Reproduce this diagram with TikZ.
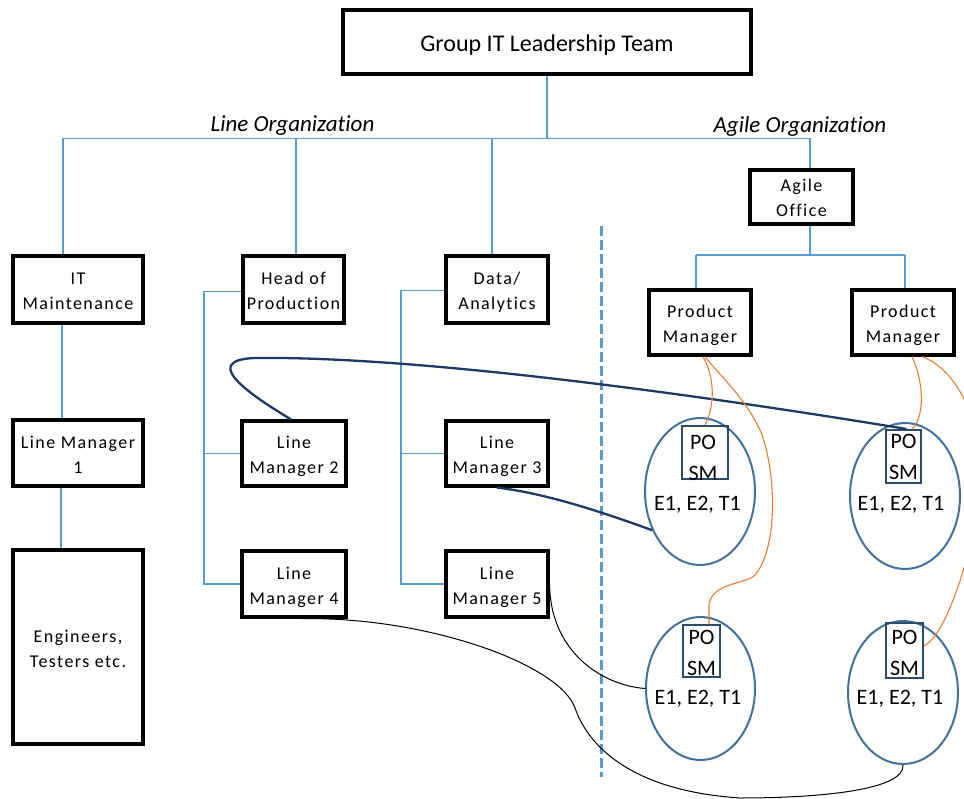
\documentclass[tikz,border=0pt]{standalone}
\usepackage{fontspec}
\setmainfont[Ligatures=NoCommon]{Carlito}
\newfontfamily\boxfont[LetterSpace=8,Ligatures=NoCommon]{Carlito}
\usetikzlibrary{shapes.geometric}
\definecolor{lblue}{HTML}{5B9BD5}
\definecolor{ellblue}{HTML}{41719C}
\definecolor{navyc}{HTML}{203864}
\definecolor{poboxc}{HTML}{2F4A68}
\definecolor{orngc}{HTML}{ED7D31}
\tikzset{
  orgbox/.style={draw=black, line width=3.2pt, align=center, inner sep=0pt,
    font=\boxfont\fontsize{18}{25}\selectfont, text height=40pt, text depth=0pt},
  titlebox/.style={draw=black, line width=3.2pt, inner sep=0pt,
    font=\fontsize{24}{28}\selectfont, text height=19pt, text depth=0pt},
  lbl/.style={inner sep=0pt, font=\itshape\fontsize{23}{28}\selectfont},
  ell/.style={ellipse, draw=ellblue, line width=2pt, inner sep=0pt},
  pob/.style={draw=poboxc, line width=2pt, inner sep=0pt},
  potext/.style={inner sep=0pt, align=center, font=\fontsize{22}{31}\selectfont},
  etext/.style={inner sep=0pt, font=\fontsize{22}{26}\selectfont},
  conn/.style={draw=lblue, line width=1.3pt},
  navyline/.style={draw=navyc, line width=2.3pt},
  blkline/.style={draw=black, line width=1pt},
  orline/.style={draw=orngc, line width=1.1pt},
  divider/.style={draw=lblue, line width=3pt, dash pattern=on 10pt off 4pt}
}
\begin{document}
\begin{tikzpicture}[x=1pt,y=-1pt]
\useasboundingbox (0,0) rectangle (964,799);

% boxes
\node[titlebox, minimum width=408pt, minimum height=64pt] (glt) at (547,42) {Group IT Leadership Team};
\node[orgbox, minimum width=130pt, minimum height=67pt] (itm) at (78,289.5) {IT\\Maintenance};
\node[orgbox, minimum width=101pt, minimum height=67pt] (hop) at (293.5,289.5) {Head of\\Production};
\node[orgbox, minimum width=102pt, minimum height=67pt] (da) at (497,289.5) {Data/\\Analytics};
\node[orgbox, minimum width=103pt, minimum height=54pt] (ao) at (801.5,197) {Agile\\Office};
\node[orgbox, minimum width=102pt, minimum height=65pt] (pm1) at (700,322.5) {Product\\Manager};
\node[orgbox, minimum width=102pt, minimum height=65pt] (pm2) at (903,322.5) {Product\\Manager};
\node[orgbox, minimum width=130pt, minimum height=66pt] (lm1) at (78,453) {Line Manager\\1};
\node[orgbox, minimum width=130pt, minimum height=194pt] (eng) at (78,647) {Engineers,\\Testers etc.};
\node[orgbox, minimum width=104pt, minimum height=65pt] (lm2) at (294,453.5) {Line\\Manager 2};
\node[orgbox, minimum width=102pt, minimum height=65pt] (lm3) at (497,453.5) {Line\\Manager 3};
\node[orgbox, minimum width=104pt, minimum height=66pt] (lm4) at (294,584) {Line\\Manager 4};
\node[orgbox, minimum width=102pt, minimum height=66pt] (lm5) at (497,584) {Line\\Manager 5};

% labels
\node[lbl] (lineorg) at (292.5,126) {Line Organization};
\node[lbl] (agileorg) at (800,126) {Agile Organization};

% teams
\node[ell, minimum width=110pt, minimum height=147pt] (e1) at (700,491.5) {};
\node[ell, minimum width=110pt, minimum height=146pt] (e2) at (905,496) {};
\node[ell, minimum width=109pt, minimum height=143pt] (e3) at (700.5,688.5) {};
\node[ell, minimum width=110pt, minimum height=143pt] (e4) at (903,692.5) {};
\node[pob, minimum width=46pt, minimum height=53pt] (b1) at (705,452.5) {};
\node[pob, minimum width=35pt, minimum height=53pt] (b2) at (903.5,456.5) {};
\node[pob, minimum width=37pt, minimum height=52pt] (b3) at (701.5,651) {};
\node[pob, minimum width=37pt, minimum height=55pt] (b4) at (904.5,650.5) {};
\node[potext] (t1) at (703,457.5) {PO\\SM};
\node[potext] (t2) at (903.5,457) {PO\\SM};
\node[potext] (t3) at (701.5,652.5) {PO\\SM};
\node[potext] (t4) at (904.5,652.5) {PO\\SM};
\node[etext] (x1) at (697.5,505) {E1, E2, T1};
\node[etext] (x2) at (901,505) {E1, E2, T1};
\node[etext] (x3) at (698,699) {E1, E2, T1};
\node[etext] (x4) at (900,699) {E1, E2, T1};

% blue tree connectors
\coordinate (busL) at (63,138.5);
\coordinate (busR) at (810,138.5);
\coordinate (hopTop) at (296,138.5);
\coordinate (daTop) at (492,138.5);
\draw[conn] (glt.south) -- (glt.south |- busL);
\draw[conn] (busL) -- (busR);
\draw[conn] (busL) -- (busL |- itm.north);
\draw[conn] (hopTop) -- (hopTop |- hop.north);
\draw[conn] (daTop) -- (daTop |- da.north);
\draw[conn] (busR) -- (busR |- ao.north);
\coordinate (aoBus) at (810,255);
\coordinate (pmL) at (696,255);
\coordinate (pmR) at (905,255);
\draw[conn] (ao.south -| aoBus) -- (aoBus);
\draw[conn] (pmL) -- (pmR);
\draw[conn] (pmL) -- (pmL |- pm1.north);
\draw[conn] (pmR) -- (pmR |- pm2.north);
\coordinate (itmX) at (62,0);
\coordinate (lm1X) at (61,0);
\draw[conn] (itm.south -| itmX) -- (lm1.north -| itmX);
\draw[conn] (lm1.south -| lm1X) -- (eng.north -| lm1X);
\coordinate (hb) at (204,291.5);
\draw[conn] (hop.west |- hb) -- (hb) -- (hb |- lm4.west) -- (lm4.west);
\draw[conn] (hb |- lm2.west) -- (lm2.west);
\coordinate (db) at (401,290.5);
\draw[conn] (da.west |- db) -- (db) -- (db |- lm5.west) -- (lm5.west);
\draw[conn] (db |- lm3.west) -- (lm3.west);

% divider
\coordinate (dtop) at (601,226);
\coordinate (dbot) at (601,777);
\draw[divider] (dtop) -- (dbot);

% navy links
\draw[navyline] ([xshift=-3pt]lm2.north) .. controls (242,390) and (203,360) .. (255,358)
  .. controls (420,356) and (700,395) .. ([xshift=3pt]b2.north);
\draw[navyline] (lm3.south) .. controls (545,493) and (605,513) .. (e1.219);

% black links
\draw[blkline] ([xshift=8pt]lm4.south) .. controls (430,617) and (560,665) .. (575,708)
  .. controls (585,737) and (620,790) .. (740,798)
  .. controls (820,798) and (905,790) .. (e4.south);
\draw[blkline] (lm5.east) .. controls (550,650) and (600,685) .. (e3.west);

% orange links
\begin{scope}
\clip (0,0) rectangle (964,799);
\draw[orline] ([xshift=3pt]pm1.south) .. controls (716,380) and (714,408) .. (b1.north);
\draw[orline] ([xshift=5pt]pm1.south) .. controls (722,378) and (745,398) .. (760,430)
  .. controls (775,465) and (780,545) .. (755,575)
  .. controls (745,585) and (712,582) .. (709,605) -- ([xshift=7.5pt]b3.north);
\draw[orline] ([xshift=9pt]pm2.south) .. controls (925,385) and (924,418) .. ([xshift=8.5pt]b2.north);
\draw[orline] ([xshift=19pt]pm2.south) .. controls (945,365) and (965,390) .. (975,430)
  .. controls (985,500) and (968,560) .. (955,595)
  .. controls (945,622) and (935,640) .. ([yshift=4.5pt]b4.east);
\end{scope}
\end{tikzpicture}
\end{document}
